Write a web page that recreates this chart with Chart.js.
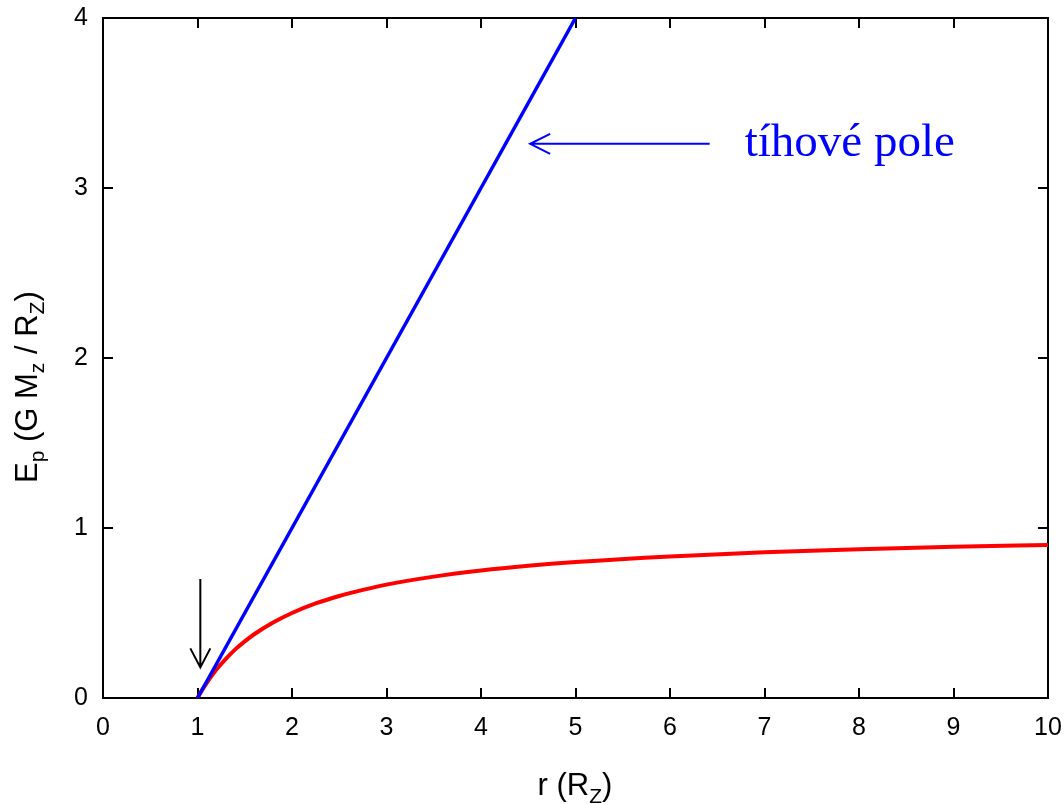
<!DOCTYPE html>
<html>
<head>
<meta charset="utf-8">
<script src="https://cdn.jsdelivr.net/npm/chart.js@4.4.1/dist/chart.umd.min.js"></script>
<style>
  html, body { margin: 0; padding: 0; background: #fff; }
  #wrap { width: 1064px; height: 804px; }
</style>
</head>
<body>
<div id="wrap"><canvas id="chart" width="1064" height="804"></canvas></div>
<script>
// Data
const xTicks = [0, 1, 2, 3, 4, 5, 6, 7, 8, 9, 10];
const yTicks = [0, 1, 2, 3, 4];

// tíhové pole (blue straight line)
const fieldR = [1, 5];
const fieldE = [0, 4];

// red curve
const curveR = [1, 1.05, 1.1, 1.15, 1.2, 1.3, 1.4, 1.5, 1.6, 1.8, 2, 2.25, 2.5, 2.75, 3, 3.5, 4, 4.5, 5, 6, 7, 8, 9, 10];
const curveE = [0, 0.048, 0.09, 0.13, 0.167, 0.23, 0.286, 0.333, 0.375, 0.444, 0.5, 0.556, 0.6, 0.636, 0.667, 0.714, 0.75, 0.778, 0.8, 0.833, 0.857, 0.875, 0.889, 0.9];

const toPoints = (xs, ys) => xs.map((x, i) => ({ x: x, y: ys[i] }));

const FONT = "'Liberation Sans', Arial, sans-serif";
Chart.defaults.font.family = FONT;
Chart.defaults.font.size = 25;
Chart.defaults.color = '#000';

/* ---------- frame, inward ticks, titles, annotations ---------- */
const decorations = {
  id: 'decorations',
  beforeDatasetsDraw(chart) {
    const { ctx, chartArea: a, scales: { x, y } } = chart;
    const tl = 10;
    ctx.save();
    ctx.strokeStyle = '#000';
    ctx.lineWidth = 2;
    ctx.strokeRect(a.left, a.top, a.right - a.left, a.bottom - a.top);
    ctx.beginPath();
    xTicks.forEach(v => {
      const px = Math.round(x.getPixelForValue(v));
      ctx.moveTo(px, a.bottom); ctx.lineTo(px, a.bottom - tl);
      ctx.moveTo(px, a.top); ctx.lineTo(px, a.top + tl);
    });
    yTicks.forEach(v => {
      const py = Math.round(y.getPixelForValue(v));
      ctx.moveTo(a.left, py); ctx.lineTo(a.left + tl, py);
      ctx.moveTo(a.right, py); ctx.lineTo(a.right - tl, py);
    });
    ctx.stroke();
    ctx.restore();
  },
  afterDraw(chart) {
    const { ctx, scales: { x, y } } = chart;
    ctx.save();

    // x axis title: r (R_Z)
    drawSubText(ctx, [['r (R', 31, 0], ['Z', 21, 8], [')', 31, 0]], 575, 795, true);

    // y axis title, rotated: E_p (G M_z / R_Z)
    ctx.save();
    ctx.translate(37, 483);
    ctx.rotate(-Math.PI / 2);
    drawSubText(ctx, [['E', 31, 0], ['p', 21, 7], [' (G M', 31, 0], ['z', 21, 7], [' / R', 31, 0], ['Z', 21, 7], [')', 31, 0]], 0, 0, false);
    ctx.restore();

    // blue arrow + label
    const ay = y.getPixelForValue(3.26);
    const tipX = x.getPixelForValue(4.52);
    const tailX = x.getPixelForValue(6.42);
    ctx.strokeStyle = '#0000ff';
    ctx.lineWidth = 2;
    ctx.beginPath();
    ctx.moveTo(tailX, ay); ctx.lineTo(tipX, ay);
    ctx.moveTo(tipX + 20, ay - 10); ctx.lineTo(tipX, ay); ctx.lineTo(tipX + 20, ay + 10);
    ctx.stroke();
    ctx.fillStyle = '#0000ff';
    ctx.font = "47px 'Liberation Serif', 'Times New Roman', serif";
    ctx.textBaseline = 'alphabetic';
    ctx.textAlign = 'left';
    ctx.fillText('tíhové pole', x.getPixelForValue(6.79), y.getPixelForValue(3.19));

    // black arrow pointing at r = 1
    const bx = x.getPixelForValue(1.03);
    const bTop = y.getPixelForValue(0.7);
    const bTip = y.getPixelForValue(0.18);
    ctx.strokeStyle = '#000';
    ctx.lineWidth = 2;
    ctx.beginPath();
    ctx.moveTo(bx, bTop); ctx.lineTo(bx, bTip);
    ctx.moveTo(bx - 10, bTip - 19); ctx.lineTo(bx, bTip); ctx.lineTo(bx + 10, bTip - 19);
    ctx.stroke();

    ctx.restore();
  }
};

// draws text pieces [text, size, dy] starting (or centred) at sx, baseline at by
function drawSubText(ctx, parts, sx, by, centred) {
  ctx.fillStyle = '#000';
  ctx.textBaseline = 'alphabetic';
  ctx.textAlign = 'left';
  let total = 0;
  parts.forEach(p => { ctx.font = p[1] + 'px ' + FONT; total += ctx.measureText(p[0]).width; });
  let cur = centred ? sx - total / 2 : sx;
  parts.forEach(p => {
    ctx.font = p[1] + 'px ' + FONT;
    ctx.fillText(p[0], cur, by + p[2]);
    cur += ctx.measureText(p[0]).width;
  });
}

const noPad = s => { s.paddingLeft = 0; s.paddingRight = 0; s.paddingTop = 0; s.paddingBottom = 0; };

new Chart(document.getElementById('chart'), {
  type: 'scatter',
  data: {
    datasets: [
      {
        label: 'tíhové pole',
        data: toPoints(fieldR, fieldE),
        showLine: true,
        borderColor: '#0000ff',
        borderWidth: 3.5,
        pointRadius: 0
      },
      {
        label: 'Ep',
        data: toPoints(curveR, curveE),
        showLine: true,
        borderColor: '#ff0000',
        borderWidth: 4,
        pointRadius: 0,
        cubicInterpolationMode: 'monotone'
      }
    ]
  },
  options: {
    responsive: false,
    animation: false,
    layout: { padding: { top: 18, right: 16, left: 0, bottom: 0 } },
    plugins: { legend: { display: false }, tooltip: { enabled: false } },
    scales: {
      x: {
        type: 'linear', min: 0, max: 10,
        afterBuildTicks: s => { s.ticks = xTicks.map(v => ({ value: v })); },
        afterFit: s => { s.height = 106; noPad(s); },
        grid: { display: false, drawTicks: false },
        border: { display: false },
        ticks: { padding: 15, maxRotation: 0, autoSkip: false }
      },
      y: {
        type: 'linear', min: 0, max: 4,
        afterBuildTicks: s => { s.ticks = yTicks.map(v => ({ value: v })); },
        afterFit: s => { s.width = 103; noPad(s); },
        grid: { display: false, drawTicks: false },
        border: { display: false },
        ticks: { padding: 15 }
      }
    }
  },
  plugins: [decorations]
});
</script>
</body>
</html>
